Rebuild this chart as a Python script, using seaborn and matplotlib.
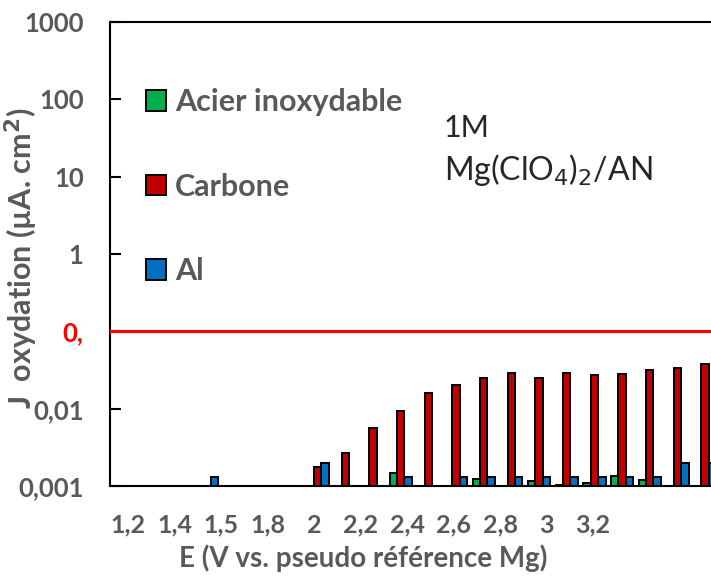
import matplotlib
matplotlib.use('Agg')
import matplotlib.pyplot as plt
import seaborn as sns
import numpy as np
import pandas as pd

nan = np.nan

# potentials (V vs. pseudo ref Mg), one category per bar group
E = [1.2, 1.3, 1.4, 1.5, 1.6, 1.7, 1.8, 1.9, 2.0, 2.1, 2.2,
     2.3, 2.4, 2.5, 2.6, 2.7, 2.8, 2.9, 3.0, 3.1, 3.2, 3.3]

# J oxydation (uA.cm-2)
acier = [nan, nan, nan, nan, nan, nan, nan, nan, nan, nan, 0.00146,
         nan, nan, 0.00122, nan, 0.00116, 0.00102, 0.0011, 0.00136, 0.0012, 0.00101, 0.00101]
carbone = [nan, nan, nan, nan, nan, nan, nan, 0.00178, 0.0027, 0.0056, 0.0093,
           0.0158, 0.0202, 0.0247, 0.0292, 0.0247, 0.0287, 0.0275, 0.0284, 0.0316, 0.0336, 0.0375]
al = [nan, nan, nan, 0.0013, nan, nan, nan, 0.00196, nan, nan, 0.0013,
      nan, 0.0013, 0.0013, 0.0013, 0.0013, 0.0013, 0.0013, 0.0013, 0.0013, 0.00197, 0.00197]

series = ['Acier inoxydable', 'Carbone', 'Al']
colors = ['#00B050', '#C00000', '#0070C0']

# axis labels as printed on the original figure
xtick_labels = ['1,2', '1,4', '1,5', '1,8', '2', '2,2', '2,4', '2,6', '2,8', '3', '3,2']
ytick_vals = [0.001, 0.01, 0.1, 1, 10, 100, 1000]
ytick_labels = ['0,001', '0,01', '0,', '1', '10', '100', '1000']

E_cat = [f'{e:.1f}' for e in E]
df = pd.DataFrame({'E': E_cat, series[0]: acier, series[1]: carbone, series[2]: al})
long = df.melt(id_vars='E', var_name='mat', value_name='J').dropna()

sns.set_style('white')
plt.rcParams['font.family'] = ['Lato', 'DejaVu Sans']

grey = '#595959'
fig = plt.figure(figsize=(7.11, 5.8), dpi=100)
ax = fig.add_axes([110 / 711, 1 - 486 / 580, 609 / 711, 464 / 580])

sns.barplot(data=long, x='E', y='J', hue='mat', order=E_cat, hue_order=series,
            palette=colors, saturation=1, width=0.8, edgecolor='black', linewidth=1.4,
            errorbar=None, ax=ax)
ax.set_yscale('log')
ax.set_ylim(0.001, 1000)
ax.set_xlim(-0.5, len(E) - 0.5)
ax.axhline(0.1, color='#FF0000', lw=2.3, zorder=5)

ax.set_yticks(ytick_vals)
ax.set_yticklabels(ytick_labels, fontsize=18.5, fontweight='bold', color=grey)
ax.yaxis.set_minor_locator(matplotlib.ticker.NullLocator())
ax.get_yticklabels()[2].set_color('#FF0000')
ax.tick_params(axis='y', direction='in', length=8, width=1.5, color='black', pad=19, left=True)

ax.set_xticks(0.15 + 1.68 * np.arange(len(xtick_labels)))
ax.set_xticklabels(xtick_labels, fontsize=18, fontweight='bold', color=grey)
ax.tick_params(axis='x', length=0, pad=20)

for s in ax.spines.values():
    s.set_color('black')
    s.set_linewidth(1.5)

ax.set_xlabel('E (V vs. pseudo référence Mg)', fontsize=20, fontweight='bold', color=grey)
ax.xaxis.set_label_coords(0.415, -0.125)
ax.set_ylabel('J  oxydation (µA. cm$^{\\mathbf{2}}$)', fontsize=22, fontweight='bold', color=grey)
ax.yaxis.set_label_coords(-0.115, 0.49)

ax.legend(loc='upper left', bbox_to_anchor=(0.059, 0.857), frameon=False,
          borderpad=0, borderaxespad=0,
          prop={'size': 22, 'weight': 'bold'}, labelcolor=grey,
          handlelength=0.66, handleheight=0.66, handletextpad=0.3, labelspacing=1.85)

ax.text(0.548, 0.772, '1M', transform=ax.transAxes, fontsize=22, va='center')
ax.text(0.548, 0.68, 'Mg(ClO$_4$)$_2$/AN', transform=ax.transAxes, fontsize=23, va='center')

fig.savefig('out.png', dpi=100)
